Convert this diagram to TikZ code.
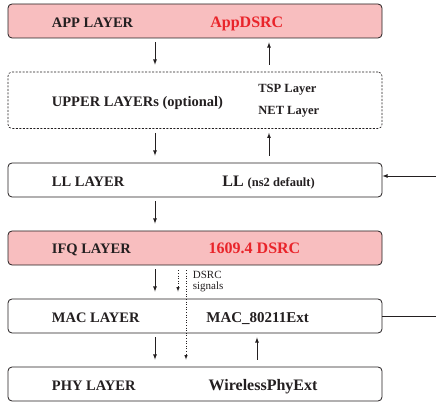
\documentclass[tikz,border=0pt]{standalone}
\usepackage{fontspec}
\setmainfont{Liberation Serif}
\definecolor{layerpink}{RGB}{248,190,191}
\definecolor{dsrcred}{RGB}{233,36,42}
\definecolor{inkgray}{RGB}{35,31,32}
\begin{document}
\begin{tikzpicture}[x=1pt, y=-1pt, >=latex, line width=.8pt, draw=inkgray,
    layerbox/.style={draw=inkgray, rounded corners=4pt, minimum width=374pt, minimum height=34pt, inner sep=0pt},
    lbl/.style={anchor=base west, inner sep=0pt, text=inkgray, font=\bfseries\fontsize{14.5pt}{16pt}\selectfont},
    big/.style={anchor=base west, inner sep=0pt, text=inkgray, font=\bfseries\fontsize{16pt}{18pt}\selectfont},
    small/.style={anchor=base west, inner sep=0pt, text=inkgray, font=\bfseries\fontsize{12.5pt}{14pt}\selectfont},
    note/.style={anchor=base west, inner sep=0pt, text=inkgray, font=\fontsize{11pt}{12pt}\selectfont}]
\useasboundingbox (0,0) rectangle (436,403);

% layer boxes
\foreach \name/\y/\fillc in {app/21/layerpink, ll/180/white, ifq/248/layerpink, mac/316/white, phy/384/white}
{
    \node[layerbox, fill=\fillc] (\name) at (195,\y) {};
}
\node[layerbox, minimum height=56.5pt, dash pattern=on 2pt off 1.5pt, line width=.6pt] (upper) at (195,100.25) {};

% left column
\foreach \name/\y/\ltext in {app/27.5/APP LAYER, upper/106.5/UPPER LAYERs (optional), ll/186.5/LL LAYER, ifq/254/IFQ LAYER, mac/322/MAC LAYER, phy/390/PHY LAYER}
{
    \node (\name lbl) at (51.5,\y)[lbl]{\ltext};
}

% right column
\node (appimpl) at (210,27.5)[big, text=dsrcred]{AppDSRC};
\node (tsp) at (258,93)[small]{TSP Layer};
\node (net) at (258,115)[small]{NET Layer};
\node (llimpl) at (222,186.5)[big]{LL \fontsize{12.5pt}{14pt}\selectfont (ns2 default)};
\node (ifqimpl) at (208.3,254)[big, text=dsrcred]{1609.4 DSRC};
\node (macimpl) at (206,322)[big, font=\bfseries\fontsize{15pt}{17pt}\selectfont]{MAC\_80211Ext};
\node (phyimpl) at (208.3,390)[big]{WirelessPhyExt};
\node (dsrc) at (192.5,278.5)[note]{DSRC};
\node (signals) at (192.5,289)[note]{signals};

% down and up arrows
\foreach \a/\b in {app/upper, upper/ll, ll/ifq, ifq/mac, mac/phy}
{
    \draw[->] ([xshift=-40pt,yshift=-4pt]\a.south) -- ([xshift=-40pt,yshift=7pt]\b.north);
}
\foreach \a/\b/\dx in {app/upper/74, upper/ll/74, mac/phy/62}
{
    \draw[<-] ([xshift=\dx pt,yshift=-4pt]\a.south) -- ([xshift=\dx pt,yshift=7pt]\b.north);
}

% DSRC signals
\draw[->, dotted, line width=.6pt] ([xshift=-17pt,yshift=-5pt]ifq.south) -- ([xshift=-17pt,yshift=7pt]mac.north);
\draw[->, dotted, line width=.6pt] ([xshift=-9pt,yshift=-5pt]ifq.south) -- ([xshift=-9pt,yshift=7pt]phy.north);

% side lines
\coordinate (llin) at (436,176);
\coordinate (macout) at (436,316);
\draw[->] (llin) -- (llin -| ll.east);
\draw (mac.east) -- (macout);
\end{tikzpicture}
\end{document}
